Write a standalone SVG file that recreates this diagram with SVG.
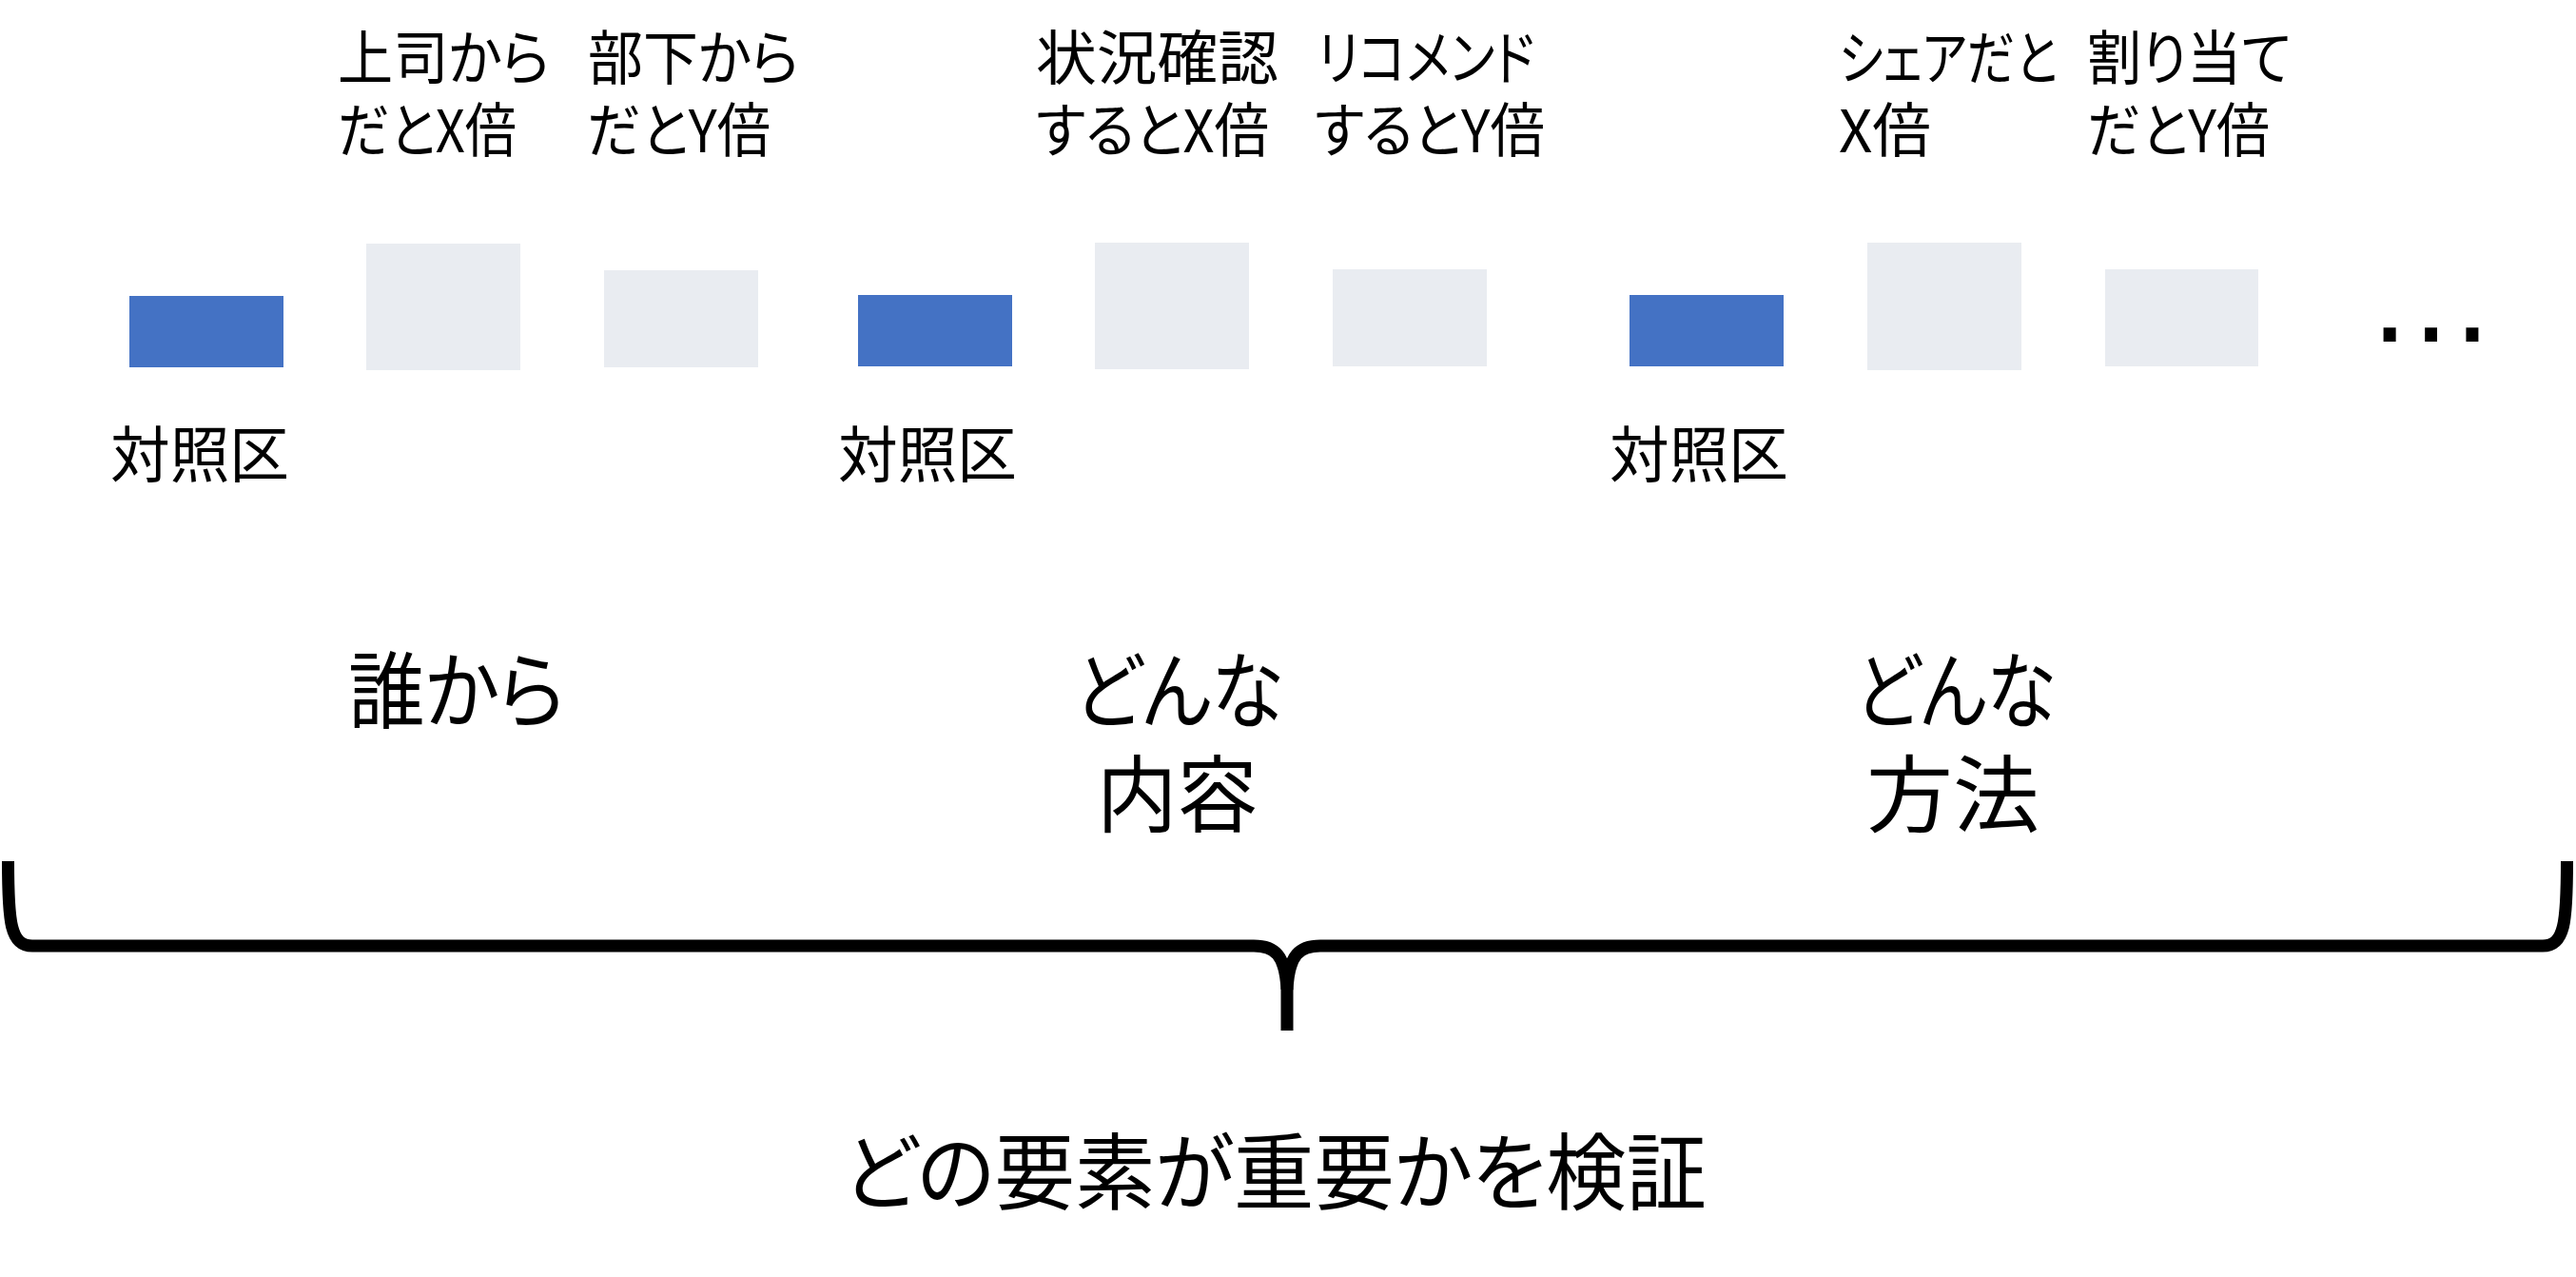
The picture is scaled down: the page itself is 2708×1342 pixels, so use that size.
<svg xmlns="http://www.w3.org/2000/svg" width="2708" height="1342" viewBox="0 0 2708 1342">
<style>
text{font-family:"Noto Sans CJK JP","Noto Sans CJK SC",sans-serif;fill:#000;font-feature-settings:"palt";}
.lbl{font-size:62px;}
.big{font-size:88px;}
.ctl{font-size:64px;}
.ctrl{fill:#4472C4;}
.trt{fill:#E9ECF1;}
.brace{fill:none;stroke:#000;stroke-width:13;stroke-linecap:butt;stroke-linejoin:round;}
</style>
<rect width="2708" height="1342" fill="#fff"/>
<g id="group-who">
<g id="ctrl1"><rect class="ctrl" x="136" y="311" width="162" height="75"/><text class="ctl" x="116" y="501" textLength="188" lengthAdjust="spacingAndGlyphs">対照区</text></g>
<g id="boss"><rect class="trt" x="385" y="256" width="162" height="133"/><text class="lbl"><tspan x="355" y="84" textLength="223" lengthAdjust="spacingAndGlyphs">上司から</tspan><tspan x="355" y="160" textLength="188" lengthAdjust="spacingAndGlyphs">だとX倍</tspan></text></g>
<g id="sub"><rect class="trt" x="635" y="284" width="162" height="102"/><text class="lbl"><tspan x="618" y="84" textLength="222" lengthAdjust="spacingAndGlyphs">部下から</tspan><tspan x="617" y="160" textLength="193" lengthAdjust="spacingAndGlyphs">だとY倍</tspan></text></g>
<text id="who" class="big" x="366" y="758" textLength="228" lengthAdjust="spacingAndGlyphs">誰から</text>
</g>
<g id="group-content">
<g id="ctrl2"><rect class="ctrl" x="902" y="310" width="162" height="75"/><text class="ctl" x="881" y="501" textLength="188" lengthAdjust="spacingAndGlyphs">対照区</text></g>
<g id="status"><rect class="trt" x="1151" y="255" width="162" height="133"/><text class="lbl"><tspan x="1089" y="84" textLength="255" lengthAdjust="spacingAndGlyphs">状況確認</tspan><tspan x="1089" y="160" textLength="245" lengthAdjust="spacingAndGlyphs">するとX倍</tspan></text></g>
<g id="recommend"><rect class="trt" x="1401" y="283" width="162" height="102"/><text class="lbl"><tspan x="1385" y="84" textLength="228" lengthAdjust="spacingAndGlyphs">リコメンド</tspan><tspan x="1382" y="160" textLength="242" lengthAdjust="spacingAndGlyphs">するとY倍</tspan></text></g>
<text id="what" class="big"><tspan x="1129" y="758" textLength="220" lengthAdjust="spacingAndGlyphs">どんな</tspan><tspan x="1153" y="867" textLength="169" lengthAdjust="spacingAndGlyphs">内容</tspan></text>
</g>
<g id="group-method">
<g id="ctrl3"><rect class="ctrl" x="1713" y="310" width="162" height="75"/><text class="ctl" x="1692" y="501" textLength="188" lengthAdjust="spacingAndGlyphs">対照区</text></g>
<g id="share"><rect class="trt" x="1963" y="255" width="162" height="134"/><text class="lbl"><tspan x="1933" y="84" textLength="230" lengthAdjust="spacingAndGlyphs">シェアだと</tspan><tspan x="1933" y="160" textLength="97" lengthAdjust="spacingAndGlyphs">X倍</tspan></text></g>
<g id="assign"><rect class="trt" x="2213" y="283" width="161" height="102"/><text class="lbl"><tspan x="2194" y="84" textLength="215" lengthAdjust="spacingAndGlyphs">割り当て</tspan><tspan x="2194" y="160" textLength="192" lengthAdjust="spacingAndGlyphs">だとY倍</tspan></text></g>
<text id="how" class="big"><tspan x="1950" y="758" textLength="211" lengthAdjust="spacingAndGlyphs">どんな</tspan><tspan x="1962" y="867" textLength="182" lengthAdjust="spacingAndGlyphs">方法</tspan></text>
<text id="more" x="2487" y="359" style="font-family:'Liberation Sans',sans-serif;font-size:137px;font-feature-settings:normal">…</text>
</g>
<g id="connectors">
<path class="brace" d="M8.5 905 C8.5 970 11 994 34 994 L1318 994 C1340 994 1351 1003 1353 1040 L1353 1083"/>
<path class="brace" d="M2698.5 905 C2698.5 970 2696 994 2673 994 L1388 994 C1366 994 1355 1003 1353 1040"/>
</g>
<text id="conclusion" class="big" x="886" y="1264" textLength="908" lengthAdjust="spacingAndGlyphs">どの要素が重要かを検証</text>
</svg>
